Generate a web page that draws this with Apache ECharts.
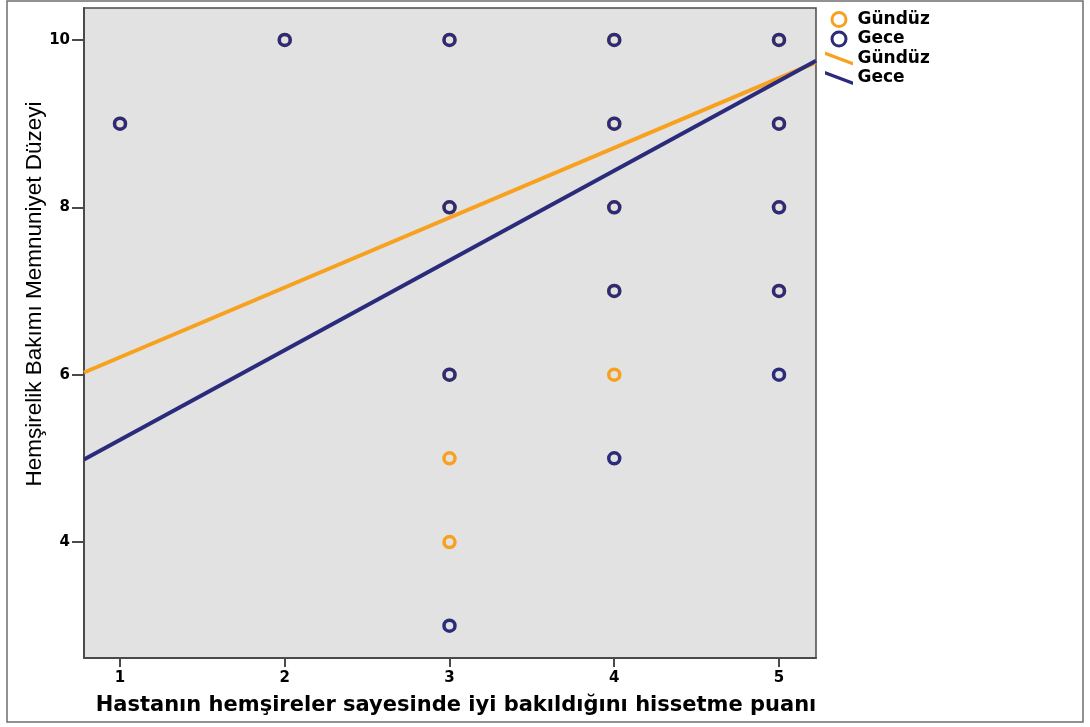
<!DOCTYPE html>
<html>
<head>
<meta charset="utf-8">
<script src="https://cdn.jsdelivr.net/npm/echarts@6/dist/echarts.min.js"></script>
<style>
  html, body { margin: 0; padding: 0; background: #ffffff; }
  #chart { width: 1090px; height: 727px; }
</style>
</head>
<body>
<div id="chart"></div>
<script>
// Axis ranges and tick positions
const xRange = [0.7815, 5.2246];
const yRange = [2.614, 10.382];
const xTicks = [1, 2, 3, 4, 5];
const yTicks = [4, 6, 8, 10];

// Observed scores per shift (x: feeling well cared for, y: satisfaction)
const dayX   = [1, 2, 3, 3, 3, 3, 3, 4, 4, 4, 4, 4, 5, 5, 5, 5];
const dayY   = [9, 10, 10, 8, 6, 5, 4, 10, 9, 8, 7, 6, 10, 9, 8, 7];
const nightX = [1, 2, 3, 3, 3, 3, 4, 4, 4, 4, 4, 5, 5, 5, 5, 5];
const nightY = [9, 10, 10, 8, 6, 3, 10, 9, 8, 7, 5, 10, 9, 8, 7, 6];

// Linear fit lines: [intercept, slope]
const dayFit   = [5.374, 0.834];
const nightFit = [4.147, 1.073];

const seriesNames = ['Gündüz', 'Gece'];

const ORANGE = '#f7a11f';
const NAVY = '#2b2b7b';

const pts = (xs, ys) => xs.map((x, i) => [x, ys[i]]);
const fitLine = (c) => xRange.map(x => [x, c[0] + c[1] * x]);

const tickFont = { fontFamily: 'DejaVu Sans', fontWeight: 'bold', fontSize: 15, color: '#000' };
const linePath = 'path://M0,0 L32,12 L32,16 L0,4 Z';

const chart = echarts.init(document.getElementById('chart'), null, { renderer: 'canvas' });

chart.setOption({
  animation: false,
  backgroundColor: '#ffffff',
  grid: {
    left: 84, top: 8, right: 274, bottom: 69,
    show: true, backgroundColor: '#e2e2e2',
    borderColor: '#4a4a4a', borderWidth: 1.5
  },
  graphic: [{
    type: 'rect', silent: true,
    shape: { x: 7, y: 1, width: 1076, height: 721 },
    style: { fill: 'none', stroke: '#6e6e6e', lineWidth: 1.5 }
  }],
  legend: {
    orient: 'vertical', left: 820, top: 6,
    itemWidth: 33, itemHeight: 14, itemGap: 2.5,
    formatter: (n) => n.replace(' fit', ''),
    textStyle: { fontFamily: 'DejaVu Sans', fontWeight: 'bold', fontSize: 17, color: '#000', lineHeight: 15, padding: [0, 0, 0, -3] },
    data: [
      { name: seriesNames[0], icon: 'circle', itemStyle: { color: 'rgba(0,0,0,0)', borderColor: ORANGE, borderWidth: 3 } },
      { name: seriesNames[1], icon: 'circle', itemStyle: { color: 'rgba(0,0,0,0)', borderColor: NAVY, borderWidth: 3 } },
      { name: seriesNames[0] + ' fit', icon: linePath, itemStyle: { color: ORANGE } },
      { name: seriesNames[1] + ' fit', icon: linePath, itemStyle: { color: NAVY } }
    ]
  },
  xAxis: {
    type: 'value', min: xRange[0], max: xRange[1],
    name: 'Hastanın hemşireler sayesinde iyi bakıldığını hissetme puanı',
    nameLocation: 'middle', nameGap: 37,
    nameTextStyle: { fontFamily: 'DejaVu Sans', fontWeight: 'bold', fontSize: 21, color: '#000', padding: [0, 0, 0, 12] },
    axisLine: { show: true, lineStyle: { color: '#4a4a4a', width: 2 } },
    axisTick: { show: true, length: 9, customValues: xTicks, lineStyle: { color: '#4a4a4a', width: 2 } },
    axisLabel: { customValues: xTicks, margin: 13, ...tickFont },
    splitLine: { show: false }
  },
  yAxis: {
    type: 'value', min: yRange[0], max: yRange[1],
    name: 'Hemşirelik Bakımı Memnuniyet Düzeyi',
    nameLocation: 'middle', nameGap: 38, nameRotate: 90, nameMoveOverlap: false,
    nameTextStyle: { fontFamily: 'Liberation Sans', fontSize: 22.5, color: '#000', padding: [0, 0, 0, 78] },
    axisLine: { show: true, lineStyle: { color: '#4a4a4a', width: 2 } },
    axisTick: { show: true, length: 12, customValues: yTicks, lineStyle: { color: '#4a4a4a', width: 2 } },
    axisLabel: { customValues: yTicks, margin: 14, ...tickFont },
    splitLine: { show: false }
  },
  series: [
    {
      name: seriesNames[0], type: 'scatter', z: 2,
      symbol: 'circle', symbolSize: 11,
      itemStyle: { color: 'rgba(0,0,0,0)', borderColor: ORANGE, borderWidth: 3.5, opacity: 1 },
      data: pts(dayX, dayY)
    },
    {
      name: seriesNames[1], type: 'scatter', z: 3,
      symbol: 'circle', symbolSize: 11,
      itemStyle: { color: 'rgba(0,0,0,0)', borderColor: NAVY, borderWidth: 3.5, opacity: 1 },
      data: pts(nightX, nightY)
    },
    {
      name: seriesNames[0] + ' fit', type: 'line', z: 4,
      showSymbol: false, color: ORANGE,
      lineStyle: { color: ORANGE, width: 4 },
      data: fitLine(dayFit)
    },
    {
      name: seriesNames[1] + ' fit', type: 'line', z: 5,
      showSymbol: false, color: NAVY,
      lineStyle: { color: NAVY, width: 4 },
      data: fitLine(nightFit)
    }
  ]
});
</script>
</body>
</html>
